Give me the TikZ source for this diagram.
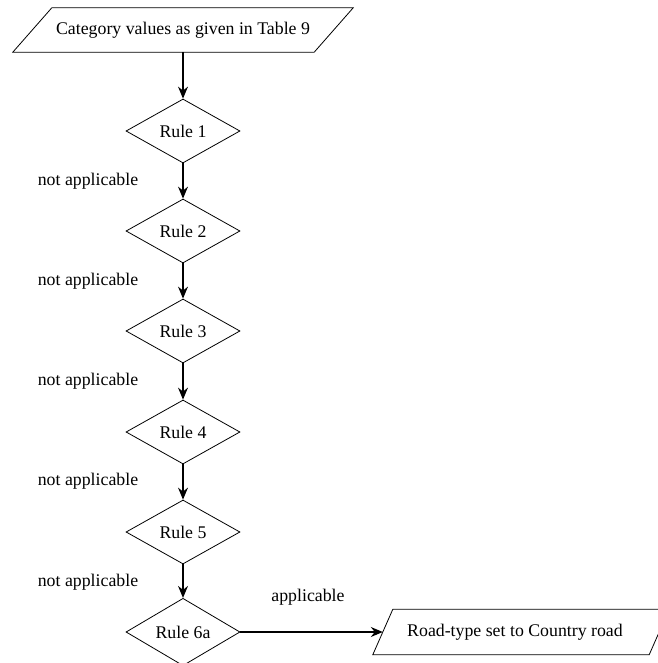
\documentclass[tikz,border=0pt]{standalone}
\usepackage{fontspec}
\setmainfont{Liberation Serif}
\usetikzlibrary{shapes.geometric,arrows.meta}
\begin{document}
\begin{tikzpicture}[x=1pt,y=-1pt,
  every node/.style={font=\fontsize{17.8}{20}\selectfont},
  rulebox/.style={draw,shape=diamond,minimum width=114pt,minimum height=64pt,inner sep=0pt,line width=0.8pt},
  iobox/.style={minimum height=44pt,inner sep=0pt},
  flow/.style={draw,line width=1.1pt,-{Stealth[length=12pt,width=10pt,inset=4pt]}},
  lbl/.style={inner sep=0pt}]
\useasboundingbox (0,0) rectangle (657,663);
% input
\node[iobox,minimum width=301pt] (tb) at (183,30) {Category values as given in Table 9};
\draw[line width=0.8pt] ([xshift=19.5pt]tb.north west) -- ([xshift=19.5pt]tb.north east)
  -- ([xshift=-19.5pt]tb.south east) -- ([xshift=-19.5pt]tb.south west) -- cycle;
% rules
\node[rulebox] (r1) at (183,131) {Rule 1};
\node[rulebox] (r2) at (183,231) {Rule 2};
\node[rulebox] (r3) at (183,331) {Rule 3};
\node[rulebox] (r4) at (183,432) {Rule 4};
\node[rulebox] (r5) at (183,532) {Rule 5};
\node[rulebox] (r6) at (183,632) {Rule 6a};
% output
\node[iobox,minimum width=276pt,minimum height=45pt] (ob) at (521,632) {\hspace*{-12pt}Road-type set to Country road};
\draw[line width=0.8pt] ([xshift=10pt]ob.north west) -- ([xshift=10pt]ob.north east)
  -- ([xshift=-10pt]ob.south east) -- ([xshift=-10pt]ob.south west) -- cycle;
% connectors
\draw[flow] (tb.south) -- (r1.north);
\draw[flow] (r1.south) -- (r2.north);
\draw[flow] (r2.south) -- (r3.north);
\draw[flow] (r3.south) -- (r4.north);
\draw[flow] (r4.south) -- (r5.north);
\draw[flow] (r5.south) -- (r6.north);
\draw[flow] (r6.east) -- (ob.west);
% labels
\node[lbl] (n1) at (88,181) {not applicable};
\node[lbl] (n2) at (88,281) {not applicable};
\node[lbl] (n3) at (88,381) {not applicable};
\node[lbl] (n4) at (88,481) {not applicable};
\node[lbl] (n5) at (88,582) {not applicable};
\node[lbl] (ap) at (308,597) {applicable};
\end{tikzpicture}
\end{document}
